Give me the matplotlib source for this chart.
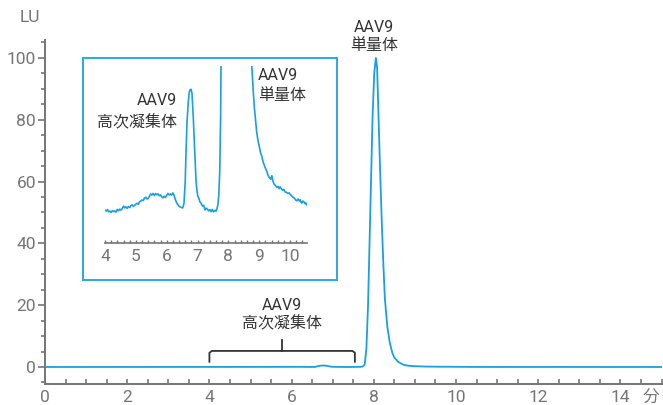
import numpy as np
import matplotlib
matplotlib.use('Agg')
from matplotlib import pyplot as plt
from matplotlib.ticker import MultipleLocator

plt.rcParams['font.family'] = ['Roboto', 'Noto Sans CJK JP', 'DejaVu Sans']

# chromatogram, time (min) / signal (LU)
t_min = [0.00,
    4.00, 4.04, 4.08, 4.12, 4.16, 4.20, 4.24, 4.28, 4.32, 4.36, 4.40, 4.44, 4.48, 4.52, 4.56,
    4.60, 4.64, 4.68, 4.72, 4.76, 4.80, 4.84, 4.88, 4.92, 4.96, 5.00, 5.04, 5.08, 5.12, 5.16,
    5.20, 5.24, 5.28, 5.32, 5.36, 5.40, 5.44, 5.48, 5.52, 5.56, 5.60, 5.64, 5.68, 5.72, 5.76,
    5.80, 5.84, 5.88, 5.92, 5.96, 6.00, 6.04, 6.08, 6.12, 6.16, 6.20, 6.24, 6.28, 6.32, 6.36,
    6.40, 6.44, 6.48, 6.52, 6.56,
    6.60, 6.63, 6.66, 6.70, 6.73, 6.76, 6.79, 6.82, 6.86, 6.89, 6.92, 6.95, 6.98, 7.01, 7.04,
    7.08, 7.12, 7.16, 7.20, 7.24, 7.28, 7.32, 7.36, 7.40, 7.44, 7.48, 7.52, 7.56, 7.60, 7.63,
    7.66, 7.69, 7.72, 7.75, 7.78, 7.82, 7.86, 7.91, 7.97, 8.01, 8.05, 8.08, 8.11, 8.15, 8.19,
    8.23, 8.27, 8.33, 8.39, 8.45, 8.50, 8.60, 8.70, 8.76, 8.81, 8.84, 8.87, 8.92, 8.96, 9.01,
    9.04, 9.08, 9.13, 9.16, 9.19, 9.22, 9.24, 9.28, 9.31, 9.33, 9.37, 9.41, 9.44, 9.48, 9.52,
    9.57, 9.61, 9.65, 9.68, 9.72, 9.76, 9.80, 9.84, 9.89, 9.93, 9.97, 10.00, 10.04, 10.08, 10.11,
    10.15, 10.18, 10.22, 10.26, 10.30, 10.33, 10.36, 10.38, 10.42, 10.45, 10.49, 10.52, 10.55,
    15.00]
signal = [0.000,
    0.000, -0.004, 0.002, -0.007, -0.004, -0.009, -0.002, -0.006, -0.003, -0.008, 0.003, -0.002, 0.004, 0.000, 0.006,
    0.016, 0.009, 0.013, 0.007, 0.014, 0.010, 0.018, 0.021, 0.015, 0.019, 0.024, 0.027, 0.023, 0.033, 0.036,
    0.040, 0.038, 0.047, 0.051, 0.044, 0.046, 0.055, 0.064, 0.060, 0.066, 0.058, 0.065, 0.061, 0.064, 0.057,
    0.060, 0.052, 0.049, 0.055, 0.050, 0.058, 0.066, 0.060, 0.064, 0.059, 0.068, 0.058, 0.042, 0.030, 0.022,
    0.016, 0.012, 0.010, 0.009, 0.025,
    0.110, 0.241, 0.350, 0.427, 0.465, 0.476, 0.478, 0.462, 0.373, 0.290, 0.202, 0.120, 0.078, 0.055, 0.048,
    0.032, 0.026, 0.016, 0.019, 0.001, 0.008, 0.004, -0.003, 0.002, -0.006, 0.003, -0.007, -0.001, -0.004, 0.006,
    0.020, 0.060, 0.150, 0.373, 0.9, 6.0, 20.0, 48.0, 81.0, 95.0, 100.0, 97.0, 83.0, 65.0, 48.5,
    34.0, 22.0, 13.0, 7.8, 4.6, 3.0, 1.6, 0.85, 0.57, 0.465, 0.41, 0.373, 0.307, 0.275, 0.248,
    0.228, 0.215, 0.189, 0.180, 0.169, 0.160, 0.155, 0.140, 0.132, 0.129, 0.122, 0.136, 0.118, 0.103, 0.098,
    0.090, 0.094, 0.085, 0.092, 0.084, 0.078, 0.082, 0.072, 0.070, 0.066, 0.068, 0.063, 0.058, 0.052, 0.050,
    0.046, 0.040, 0.037, 0.044, 0.036, 0.041, 0.030, 0.028, 0.036, 0.033, 0.025, 0.028, 0.020,
    0.000]

blue = '#1a9fe0'
grey = '#757575'
dark = '#333333'

fig = plt.figure(figsize=(6.63, 4.05), dpi=100)
ax = fig.add_axes([45/663, 21/405, 616.5/663, 344/405])

ax.plot(t_min, signal, color=blue, lw=1.3)
ax.set_xlim(0, 15)
ax.set_ylim(-5.5, 105.8)
ax.xaxis.set_major_locator(MultipleLocator(2))
ax.xaxis.set_minor_locator(MultipleLocator(0.5))
ax.yaxis.set_major_locator(MultipleLocator(20))
ax.yaxis.set_minor_locator(MultipleLocator(5))
ax.tick_params(axis='x', which='both', direction='in', length=3.5, width=1.2, color=grey,
               labelcolor=grey, labelsize=12.5, pad=4)
ax.tick_params(axis='y', which='major', direction='out', length=5, width=1.2, color=grey,
               labelcolor=grey, labelsize=12.5, pad=1.5)
ax.tick_params(axis='y', which='minor', direction='out', length=3, width=1.2, color=grey)
for s in ['top', 'right']:
    ax.spines[s].set_visible(False)
for s in ['left', 'bottom']:
    ax.spines[s].set_color(grey)
    ax.spines[s].set_linewidth(1.4)

# bracket under the aggregate region
bx = [4.0, 4.0, 4.06, 7.48, 7.54, 7.54]
by = [1.7, 4.6, 5.2, 5.2, 4.6, 1.7]
ax.plot(bx, by, color=dark, lw=1.3)
ax.plot([5.76, 5.76], [5.2, 8.7], color=dark, lw=1.3)
ax.text(5.76, 20.0, 'AAV9', ha='center', va='center', fontsize=11.5, color=dark)
ax.text(5.76, 14.2, '高次凝集体', ha='center', va='center', fontsize=11.5, color=dark)
ax.text(8.0, 109.7, 'AAV9', ha='center', va='center', fontsize=11.5, color=dark, clip_on=False)
ax.text(8.0, 103.9, '単量体', ha='center', va='center', fontsize=11.5, color=dark, clip_on=False)

fig.text(30/663, 1 - 18/405, 'LU', ha='center', va='center', fontsize=12.5, color=grey)
fig.text(651/663, 1 - 397/405, '分', ha='center', va='center', fontsize=12, color=grey)

# inset frame
box = fig.add_axes([83/663, 125/405, 254/663, 222/405])
box.set_xticks([])
box.set_yticks([])
box.patch.set_alpha(0)
for s in box.spines.values():
    s.set_color('#2aa9e2')
    s.set_linewidth(1.4)

ins = fig.add_axes([105/663, 162/405, 202/663, 177/405])
ins.patch.set_alpha(0)
ins.plot(t_min, signal, color=blue, lw=1.2)
ins.set_xlim(4, 10.55)
ins.set_ylim(-0.13, 0.57)
ins.set_yticks([])
ins.xaxis.set_major_locator(MultipleLocator(1))
ins.xaxis.set_minor_locator(MultipleLocator(0.2))
ins.tick_params(axis='x', which='both', direction='in', length=2.5, width=1, color=grey,
                labelcolor=grey, labelsize=12.5, pad=4)
for s in ['top', 'right', 'left']:
    ins.spines[s].set_visible(False)
ins.spines['bottom'].set_color(grey)
ins.spines['bottom'].set_linewidth(1.2)

ins.text(6.33, 0.435, 'AAV9', ha='right', va='center', fontsize=11.5, color=dark)
ins.text(6.33, 0.348, '高次凝集体', ha='right', va='center', fontsize=11.5, color=dark)
ins.text(8.96, 0.534, 'AAV9', ha='left', va='center', fontsize=11.5, color=dark)
ins.text(8.96, 0.455, '単量体', ha='left', va='center', fontsize=11.5, color=dark)

fig.savefig('out.png', dpi=100)
